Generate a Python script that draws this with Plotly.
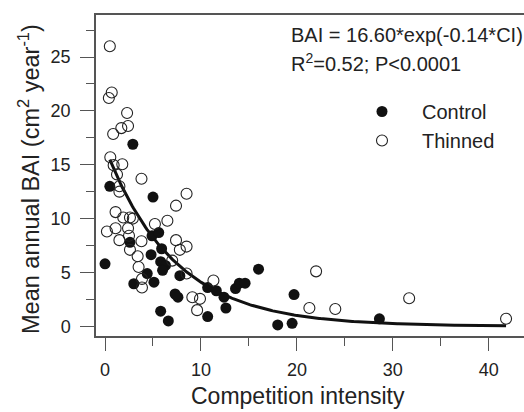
import numpy as np
import plotly.graph_objects as go

# Data
control_x = [0.0, 0.5, 2.9, 5.0, 2.6, 4.9, 5.6, 5.9, 4.8, 5.8, 6.3, 6.0, 7.8, 4.4, 3.0, 5.1,
             7.3, 7.6, 5.8, 6.6, 10.7, 11.6, 12.4, 12.6, 10.7, 13.6, 14.0, 14.6, 16.0, 19.7,
             18.0, 19.5, 28.6]
control_y = [5.8, 13.0, 16.9, 12.0, 7.8, 8.4, 8.7, 7.2, 6.65, 6.0, 5.65, 5.2, 4.7, 4.9, 3.95, 4.1,
             3.0, 2.7, 1.4, 0.5, 3.6, 3.3, 2.7, 1.7, 0.9, 3.5, 4.0, 4.0, 5.3, 2.95,
             0.13, 0.28, 0.7]

thinned_x = [0.5, 0.7, 0.4, 2.3, 2.4, 1.7, 0.85, 0.55, 1.8, 0.9, 1.25, 1.5, 1.5, 3.8, 7.4, 8.5,
             1.1, 1.9, 2.6, 2.9, 5.2, 6.5, 0.2, 1.1, 2.4, 1.5, 2.5, 3.8, 7.4, 2.6, 7.8, 8.5,
             3.4, 7.0, 3.5, 8.5, 3.85, 3.85, 11.3, 9.1, 9.9, 9.6, 22.0, 21.3, 24.0, 31.7, 41.8]
thinned_y = [26.0, 21.7, 21.2, 19.8, 18.6, 18.4, 17.85, 15.7, 15.05, 14.96, 14.1, 13.0, 12.5, 13.7, 11.2, 12.3,
             10.6, 10.1, 10.1, 10.0, 9.5, 9.8, 8.8, 9.1, 9.1, 8.0, 8.4, 7.9, 8.0, 7.1, 7.1, 7.4,
             6.5, 6.1, 5.5, 4.9, 4.4, 3.6, 4.25, 2.7, 2.55, 1.5, 5.1, 1.7, 1.6, 2.6, 0.7]

# Fitted model stated on the chart: BAI = 16.60*exp(-0.14*CI)
fit_a = 16.60
fit_b = 0.14
curve_start = 0.5
curve_end = 41.8

x_ticks = [0, 10, 20, 30, 40]
y_ticks = [0, 5, 10, 15, 20, 25]

font_family = "Liberation Sans, Arial, Helvetica, sans-serif"
text_color = "#222222"
axis_color = "#555555"

cx = np.linspace(curve_start, curve_end, 300)
cy = fit_a * np.exp(-fit_b * cx)

fig = go.Figure()
fig.add_trace(go.Scatter(x=cx, y=cy, mode="lines", line=dict(color="#111111", width=3),
                         showlegend=False, hoverinfo="skip"))
fig.add_trace(go.Scatter(x=control_x, y=control_y, mode="markers", name="Control",
                         marker=dict(symbol="circle", size=11, color="#111111",
                                     line=dict(width=0))))
fig.add_trace(go.Scatter(x=thinned_x, y=thinned_y, mode="markers", name="Thinned",
                         marker=dict(symbol="circle-open", size=11, color="#222222",
                                     line=dict(width=1.1))))

W, H = 524, 412
ml, mt, mb, mr = 96, 15, 76, 0
pw = W - ml - mr
ph = H - mt - mb

def px_x(px):
    return (px - ml) / pw

def px_y(py):
    return (H - mb - py) / ph

fig.update_layout(
    width=W, height=H,
    margin=dict(l=ml, r=mr, t=mt, b=mb, pad=0),
    paper_bgcolor="white", plot_bgcolor="white",
    font=dict(family=font_family, color=text_color, size=18),
    xaxis=dict(range=[-0.94, 43.67], showgrid=False, zeroline=False,
               showline=True, linecolor=axis_color, linewidth=1.5, mirror=True,
               tickmode="array", tickvals=x_ticks, ticks="outside", ticklen=13,
               tickcolor=axis_color, tickwidth=1.3, tickfont=dict(size=18),
               ticklabelstandoff=4,
               minor=dict(dtick=5, tick0=0, ticks="outside", ticklen=8,
                          tickcolor=axis_color, tickwidth=1.3)),
    yaxis=dict(range=[-0.9, 28.9], showgrid=False, zeroline=False,
               showline=True, linecolor=axis_color, linewidth=1.5, mirror=False,
               tickmode="array", tickvals=y_ticks, ticks="outside", ticklen=14,
               tickcolor=axis_color, tickwidth=1.3, tickfont=dict(size=18),
               ticklabelstandoff=6,
               minor=dict(dtick=2.5, tick0=0, ticks="outside", ticklen=8,
                          tickcolor=axis_color, tickwidth=1.3)),
    legend=dict(x=px_x(342), y=px_y(92), xanchor="left", yanchor="top",
                bgcolor="rgba(0,0,0,0)", font=dict(size=20), itemwidth=70,
                tracegroupgap=0),
    annotations=[
        dict(text="BAI = 16.60*exp(-0.14*CI)", x=px_x(289), y=px_y(35), xref="paper", yref="paper",
             xanchor="left", yanchor="middle", showarrow=False, font=dict(size=20)),
        dict(text="R<sup>2</sup>=0.52; P&lt;0.0001", x=px_x(289), y=px_y(62), xref="paper", yref="paper",
             xanchor="left", yanchor="middle", showarrow=False, font=dict(size=20)),
        dict(text="Competition intensity", x=px_x(297.5), y=px_y(396), xref="paper", yref="paper",
             xanchor="center", yanchor="middle", showarrow=False, font=dict(size=23)),
        dict(text="Mean annual BAI (cm<sup>2</sup> year<sup>-1</sup>)", x=px_x(29), y=px_y(179),
             xref="paper", yref="paper", xanchor="center", yanchor="middle", textangle=-90,
             showarrow=False, font=dict(size=23.5)),
    ],
)

fig.write_html("out.html")
